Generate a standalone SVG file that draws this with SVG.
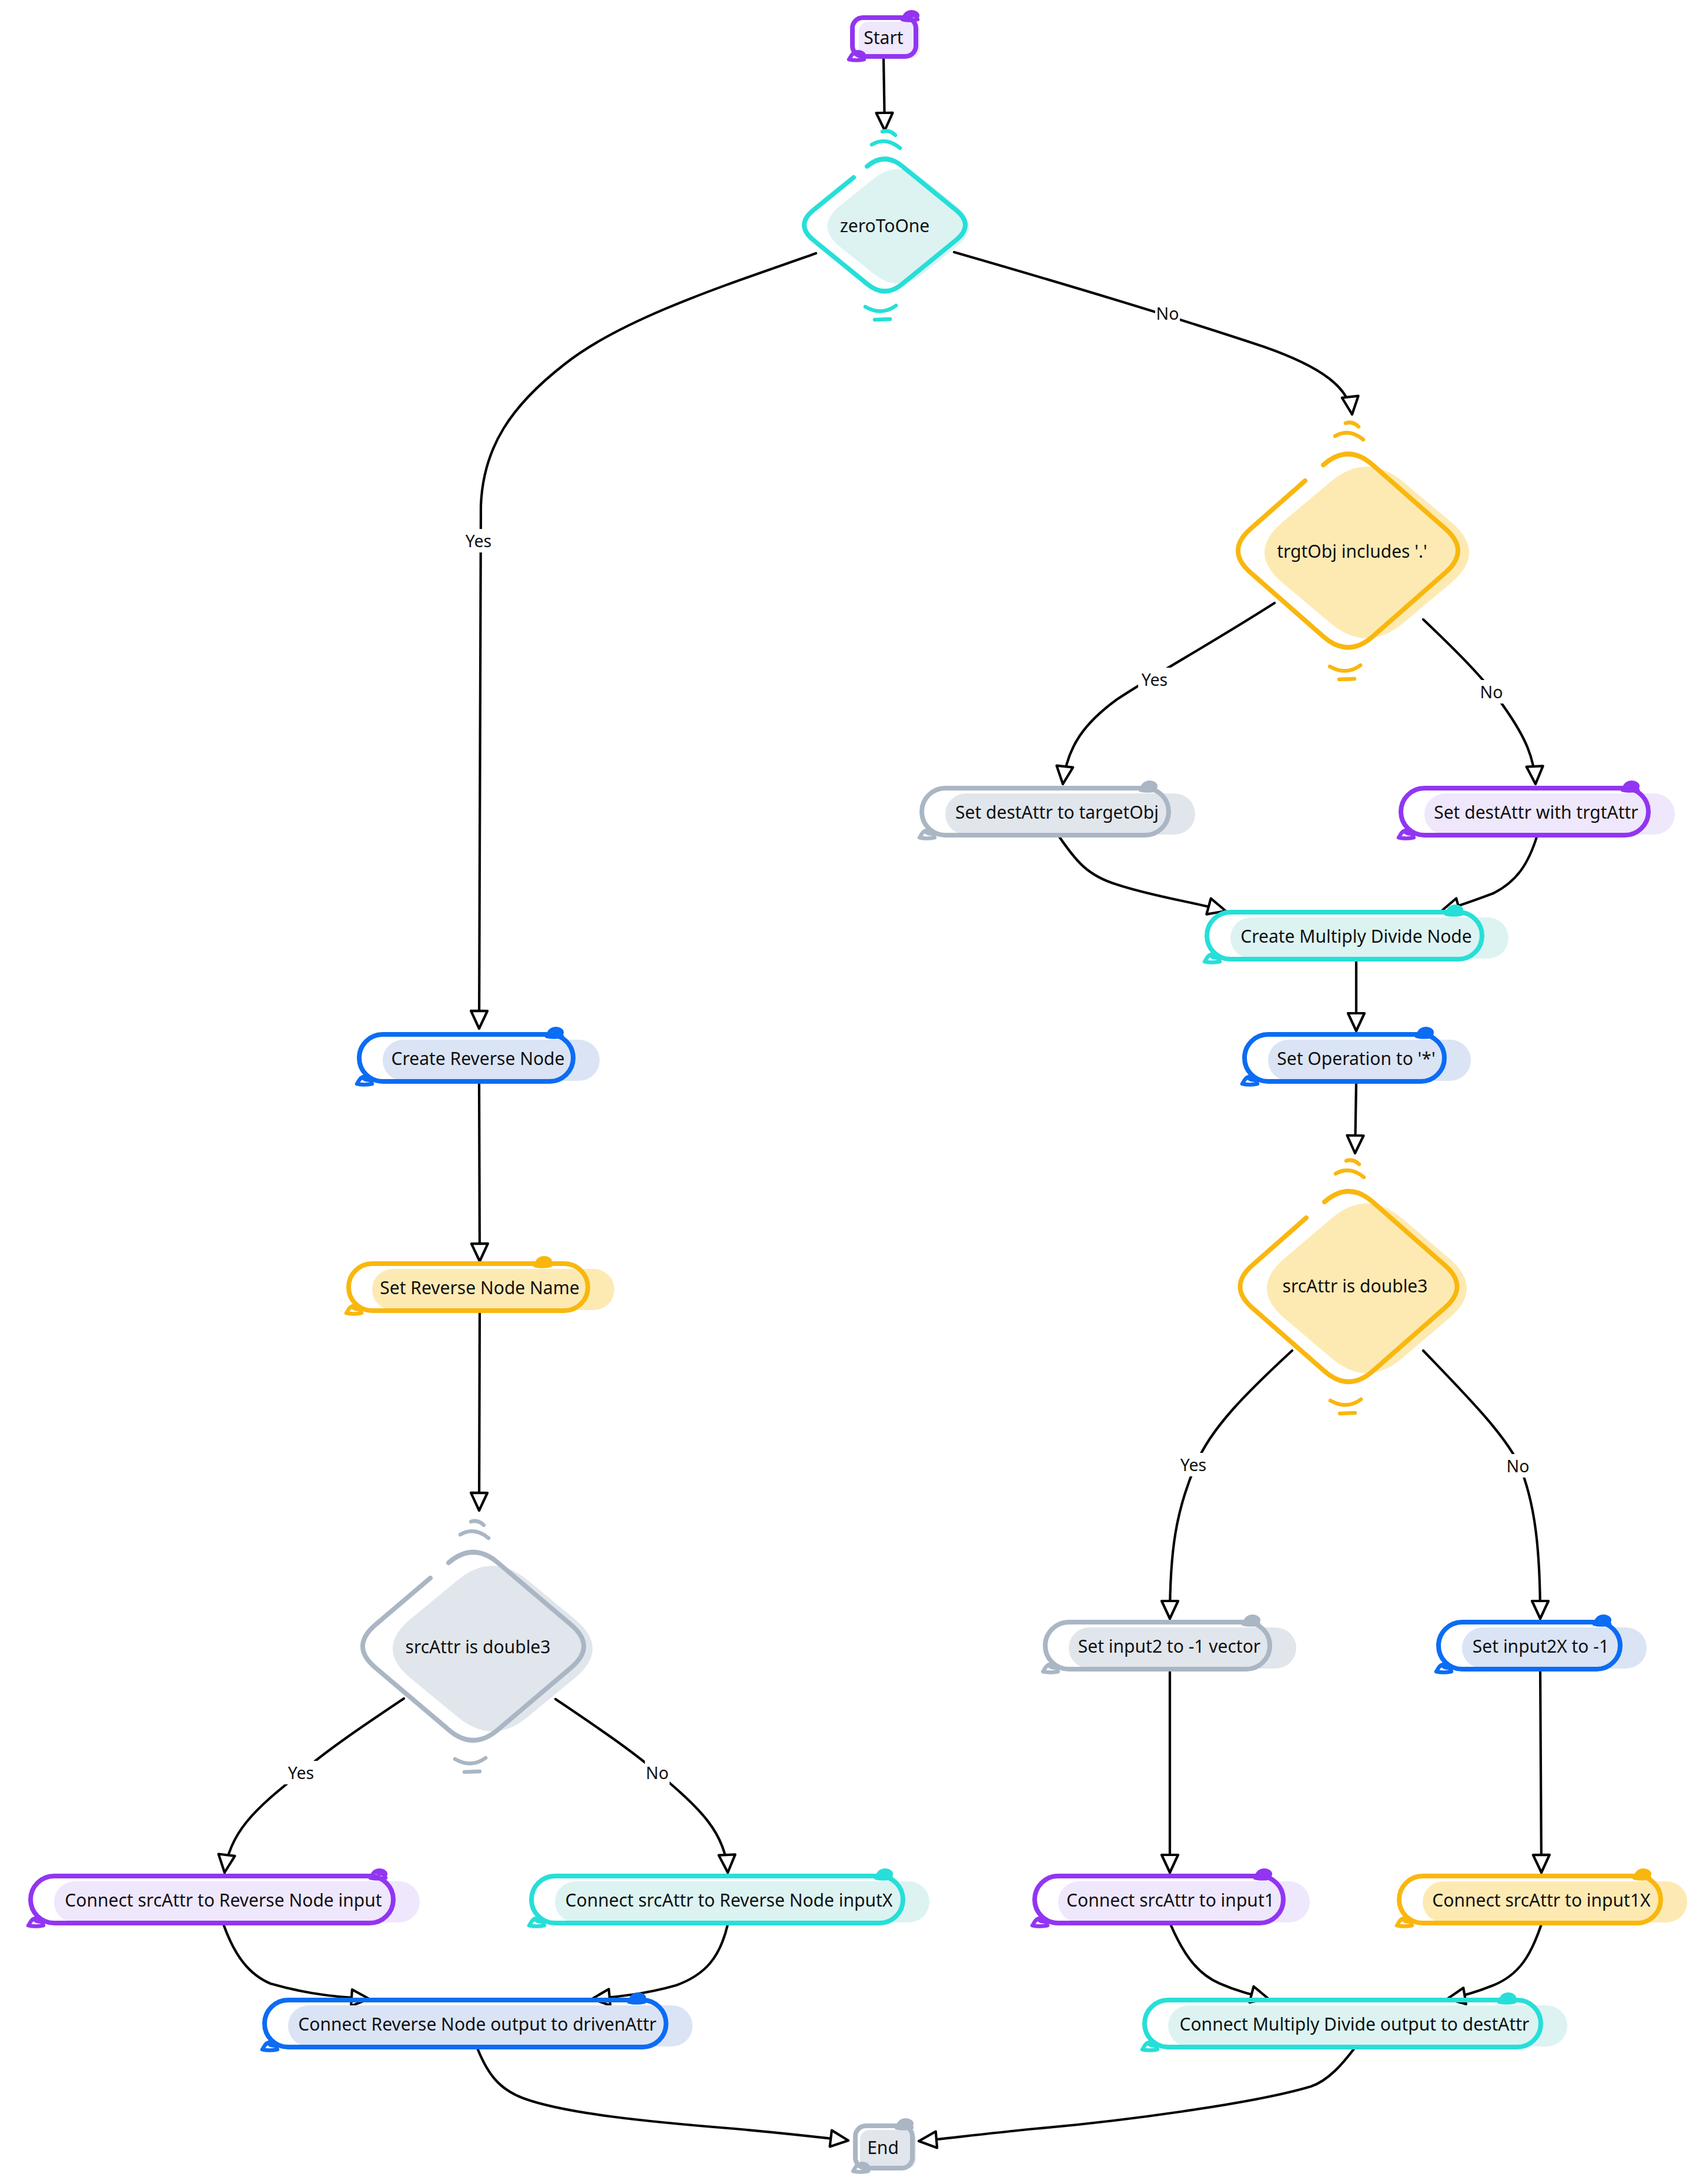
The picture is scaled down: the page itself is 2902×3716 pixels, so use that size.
<svg xmlns="http://www.w3.org/2000/svg" xmlns:xlink="http://www.w3.org/1999/xlink" width="2902" height="3716" viewBox="0 0 2902 3716">
<style>
.t{font-family:"Noto Sans","Open Sans","DejaVu Sans",sans-serif;font-size:30px;fill:#111111;text-anchor:middle;dominant-baseline:central}
.el{font-size:28.5px}
.lb{fill:#ffffff}
.e{fill:none;stroke:#000;stroke-width:4.2;stroke-linecap:round;stroke-linejoin:round}
.sk{fill:none;stroke-width:8;stroke-linecap:round;stroke-linejoin:round}
.kn{fill:none;stroke-width:6.5;stroke-linecap:round;stroke-linejoin:round}
.purple{stroke:#9235F2}.fpurple{fill:#EFE7FB}
.cyan{stroke:#26DFD8}.fcyan{fill:#DCF3F2}
.amber{stroke:#F9B70E}.famber{fill:#FDEAB3}
.blue{stroke:#0B6CF4}.fblue{fill:#DAE4F5}
.gray{stroke:#AAB6C4}.fgray{fill:#E1E6EC}
</style>
<defs>
<marker id="ah" viewBox="0 0 38 34" refX="34" refY="17" markerWidth="38" markerHeight="34" markerUnits="userSpaceOnUse" orient="auto">
<path d="M4,3 L34,17 L4,31 Z" fill="#fff" stroke="#000" stroke-width="4.2" stroke-linejoin="round"/>
</marker>
<path id="knot" d="M-8,2 q6,-12 18,-9 q9,3 4,10 M0,-6 q4,6 12,4 M-10,5 q12,3 26,0"/>
<path id="dtop" d="M-22,-12 Q2,-26 26,-6 M-4,-34 Q8,-38 18,-28"/>
<path id="dbot" d="M-28,14 Q0,30 24,12 M-12,36 L14,35"/>
</defs>

<g id="connectors">
<path class="e" marker-end="url(#ah)" d="M1503,100 L1505,222"/>
<path class="e" marker-end="url(#ah)" d="M1388,431 C1250,480 1060,540 960,620 C870,690 822,760 818,860 L815,1750"/>
<path class="e" marker-end="url(#ah)" d="M1623,429 C1800,480 2000,540 2150,590 C2250,625 2295,660 2300,705"/>
<path class="e" marker-end="url(#ah)" d="M2168,1026 C2060,1095 1960,1150 1900,1190 C1845,1230 1815,1270 1808,1334"/>
<path class="e" marker-end="url(#ah)" d="M2421,1054 C2480,1110 2530,1160 2560,1205 C2595,1255 2610,1290 2612,1334"/>
<path class="e" marker-end="url(#ah)" d="M1800,1421 C1830,1465 1850,1490 1900,1505 C1960,1525 2030,1535 2085,1550"/>
<path class="e" marker-end="url(#ah)" d="M2615,1421 C2600,1470 2580,1500 2540,1520 C2500,1535 2470,1545 2452,1550"/>
<path class="e" marker-end="url(#ah)" d="M2307,1632 L2307,1754"/>
<path class="e" marker-end="url(#ah)" d="M2307,1842 L2305,1962"/>
<path class="e" marker-end="url(#ah)" d="M2198,2298 C2120,2370 2060,2430 2035,2490 C2000,2570 1990,2640 1990,2754"/>
<path class="e" marker-end="url(#ah)" d="M2421,2298 C2490,2370 2560,2440 2585,2494 C2612,2560 2620,2640 2620,2754"/>
<path class="e" marker-end="url(#ah)" d="M1990,2842 L1990,3186"/>
<path class="e" marker-end="url(#ah)" d="M2620,2842 L2622,3186"/>
<path class="e" marker-end="url(#ah)" d="M1991,3274 C2015,3330 2040,3360 2075,3375 C2110,3390 2135,3395 2158,3401"/>
<path class="e" marker-end="url(#ah)" d="M2622,3274 C2605,3325 2585,3360 2540,3378 C2505,3392 2480,3398 2462,3401"/>
<path class="e" marker-end="url(#ah)" d="M2304,3485 C2285,3510 2260,3540 2230,3550 C2130,3580 1900,3610 1760,3622 C1660,3632 1600,3640 1563,3643"/>
<path class="e" marker-end="url(#ah)" d="M812,3485 C830,3530 850,3555 890,3570 C960,3596 1100,3610 1250,3622 C1340,3630 1400,3637 1443,3642"/>
<path class="e" marker-end="url(#ah)" d="M815,1842 L816,2146"/>
<path class="e" marker-end="url(#ah)" d="M816,2232 L815,2570"/>
<path class="e" marker-end="url(#ah)" d="M687,2890 C620,2935 560,2975 512,3016 C430,3080 390,3120 382,3186"/>
<path class="e" marker-end="url(#ah)" d="M945,2891 C1010,2935 1070,2975 1118,3016 C1190,3075 1235,3120 1238,3186"/>
<path class="e" marker-end="url(#ah)" d="M380,3274 C400,3330 425,3360 460,3375 C530,3395 580,3398 628,3401"/>
<path class="e" marker-end="url(#ah)" d="M1238,3274 C1225,3330 1200,3360 1150,3378 C1090,3395 1040,3398 1007,3401"/>

<rect class="lb" x="786" y="900" width="56" height="40"/><text class="t el" x="814" y="920">Yes</text>
<rect class="lb" x="1965" y="513" width="42" height="40"/><text class="t el" x="1986" y="533">No</text>
<rect class="lb" x="1936" y="1136" width="56" height="40"/><text class="t el" x="1964" y="1156">Yes</text>
<rect class="lb" x="2516" y="1157" width="42" height="40"/><text class="t el" x="2537" y="1177">No</text>
<rect class="lb" x="2002" y="2472" width="56" height="40"/><text class="t el" x="2030" y="2492">Yes</text>
<rect class="lb" x="2561" y="2474" width="42" height="40"/><text class="t el" x="2582" y="2494">No</text>
<rect class="lb" x="484" y="2996" width="56" height="40"/><text class="t el" x="512" y="3016">Yes</text>
<rect class="lb" x="1097" y="2996" width="42" height="40"/><text class="t el" x="1118" y="3016">No</text>
</g>

<g id="start">
<rect class="fpurple" x="1461" y="37" width="104" height="62" rx="16"/>
<rect class="sk purple" x="1450" y="30" width="108" height="66" rx="18"/>
<use href="#knot" class="kn purple" x="1545" y="28"/>
<use href="#knot" class="kn purple" x="1454" y="96"/>
<text class="t" x="1503" y="63">Start</text>
</g>

<g id="zeroToOne">
<path class="fcyan" d="M1571,305 L1627,350 Q1670,385 1627,420 L1571,465 Q1528,500 1485,465 L1429,420 Q1386,385 1429,350 L1485,305 Q1528,270 1571,305 Z"/>
<path class="sk cyan" d="M1535,283 L1627,358 Q1657,383 1627,408 L1535,483 Q1505,508 1475,483 L1383,408 Q1353,383 1383,358 L1452,302 M1475,283 Q1505,258 1535,283"/>
<use href="#dtop" class="kn cyan" x="1505" y="258"/>
<use href="#dbot" class="kn cyan" x="1500" y="508"/>
<text class="t" x="1505" y="383">zeroToOne</text>
</g>

<g id="trgtObj">
<path class="famber" d="M2387,820 L2468,888 Q2530,940 2468,992 L2387,1060 Q2325,1112 2263,1060 L2182,992 Q2120,940 2182,888 L2263,820 Q2325,768 2387,820 Z"/>
<path class="sk amber" d="M2335,791 L2459,900 Q2501,937 2459,974 L2335,1083 Q2293,1120 2251,1083 L2127,974 Q2085,937 2127,900 L2220,818 M2251,791 Q2293,754 2335,791"/>
<use href="#dtop" class="kn amber" x="2293" y="754"/>
<use href="#dbot" class="kn amber" x="2290" y="1120"/>
<text class="t" x="2300" y="937">trgtObj includes '.'</text>
</g>

<g id="setDestTarget">
<rect class="fgray" x="1608" y="1350" width="425" height="70" rx="35"/>
<rect class="sk gray" x="1568" y="1341" width="420" height="80" rx="40"/>
<use href="#knot" class="kn gray" x="1950" y="1339"/>
<use href="#knot" class="kn gray" x="1574" y="1420"/>
<text class="t" x="1798" y="1381">Set destAttr to targetObj</text>
</g>

<g id="setDestWith">
<rect class="fpurple" x="2423" y="1350" width="426" height="70" rx="35"/>
<rect class="sk purple" x="2383" y="1341" width="421" height="80" rx="40"/>
<use href="#knot" class="kn purple" x="2770" y="1339"/>
<use href="#knot" class="kn purple" x="2389" y="1420"/>
<text class="t" x="2613" y="1381">Set destAttr with trgtAttr</text>
</g>

<g id="createMD">
<rect class="fcyan" x="2093" y="1561" width="473" height="70" rx="35"/>
<rect class="sk cyan" x="2053" y="1552" width="468" height="80" rx="40"/>
<use href="#knot" class="kn cyan" x="2470" y="1550"/>
<use href="#knot" class="kn cyan" x="2059" y="1631"/>
<text class="t" x="2307" y="1592">Create Multiply Divide Node</text>
</g>

<g id="setOp">
<rect class="fblue" x="2157" y="1769" width="345" height="70" rx="35"/>
<rect class="sk blue" x="2117" y="1760" width="340" height="80" rx="40"/>
<use href="#knot" class="kn blue" x="2420" y="1758"/>
<use href="#knot" class="kn blue" x="2123" y="1839"/>
<text class="t" x="2307" y="1800">Set Operation to '*'</text>
</g>

<g id="srcAttrRight">
<path class="famber" d="M2385,2073 L2465,2141 Q2525,2192 2465,2243 L2385,2311 Q2325,2362 2265,2311 L2185,2243 Q2125,2192 2185,2141 L2265,2073 Q2325,2022 2385,2073 Z"/>
<path class="sk amber" d="M2335,2045 L2458,2153 Q2499,2189 2458,2225 L2335,2333 Q2294,2369 2253,2333 L2130,2225 Q2089,2189 2130,2153 L2222,2072 M2253,2045 Q2294,2009 2335,2045"/>
<use href="#dtop" class="kn amber" x="2294" y="2009"/>
<use href="#dbot" class="kn amber" x="2291" y="2369"/>
<text class="t" x="2305" y="2187">srcAttr is double3</text>
</g>

<g id="setInput2">
<rect class="fgray" x="1818" y="2769" width="387" height="70" rx="35"/>
<rect class="sk gray" x="1778" y="2760" width="382" height="80" rx="40"/>
<use href="#knot" class="kn gray" x="2125" y="2758"/>
<use href="#knot" class="kn gray" x="1784" y="2839"/>
<text class="t" x="1989" y="2800">Set input2 to -1 vector</text>
</g>

<g id="setInput2X">
<rect class="fblue" x="2487" y="2769" width="314" height="70" rx="35"/>
<rect class="sk blue" x="2447" y="2760" width="309" height="80" rx="40"/>
<use href="#knot" class="kn blue" x="2722" y="2758"/>
<use href="#knot" class="kn blue" x="2453" y="2839"/>
<text class="t" x="2621" y="2800">Set input2X to -1</text>
</g>

<g id="connectInput1">
<rect class="fpurple" x="1800" y="3201" width="428" height="70" rx="35"/>
<rect class="sk purple" x="1760" y="3192" width="423" height="80" rx="40"/>
<use href="#knot" class="kn purple" x="2145" y="3190"/>
<use href="#knot" class="kn purple" x="1766" y="3271"/>
<text class="t" x="1991" y="3232">Connect srcAttr to input1</text>
</g>

<g id="connectInput1X">
<rect class="famber" x="2420" y="3201" width="450" height="70" rx="35"/>
<rect class="sk amber" x="2380" y="3192" width="445" height="80" rx="40"/>
<use href="#knot" class="kn amber" x="2790" y="3190"/>
<use href="#knot" class="kn amber" x="2386" y="3271"/>
<text class="t" x="2622" y="3232">Connect srcAttr to input1X</text>
</g>

<g id="connectMDOut">
<rect class="fcyan" x="1987" y="3412" width="679" height="70" rx="35"/>
<rect class="sk cyan" x="1947" y="3403" width="674" height="80" rx="40"/>
<use href="#knot" class="kn cyan" x="2560" y="3401"/>
<use href="#knot" class="kn cyan" x="1953" y="3482"/>
<text class="t" x="2304" y="3443">Connect Multiply Divide output to destAttr</text>
</g>

<g id="createReverse">
<rect class="fblue" x="651" y="1769" width="369" height="70" rx="35"/>
<rect class="sk blue" x="611" y="1760" width="364" height="80" rx="40"/>
<use href="#knot" class="kn blue" x="940" y="1758"/>
<use href="#knot" class="kn blue" x="617" y="1839"/>
<text class="t" x="813" y="1800">Create Reverse Node</text>
</g>

<g id="setReverseName">
<rect class="famber" x="633" y="2159" width="412" height="70" rx="35"/>
<rect class="sk amber" x="593" y="2150" width="407" height="80" rx="40"/>
<use href="#knot" class="kn amber" x="920" y="2148"/>
<use href="#knot" class="kn amber" x="599" y="2229"/>
<text class="t" x="816" y="2190">Set Reverse Node Name</text>
</g>

<g id="srcAttrLeft">
<path class="fgray" d="M898,2689 L978,2755 Q1038,2805 978,2855 L898,2921 Q838,2971 778,2921 L698,2855 Q638,2805 698,2755 L778,2689 Q838,2639 898,2689 Z"/>
<path class="sk gray" d="M847,2659 L972,2765 Q1014,2801 972,2837 L847,2943 Q805,2979 763,2943 L638,2837 Q596,2801 638,2765 L732,2685 M763,2659 Q805,2623 847,2659"/>
<use href="#dtop" class="kn gray" x="805" y="2623"/>
<use href="#dbot" class="kn gray" x="802" y="2979"/>
<text class="t" x="813" y="2801">srcAttr is double3</text>
</g>

<g id="connectRevInput">
<rect class="fpurple" x="92" y="3201" width="622" height="70" rx="35"/>
<rect class="sk purple" x="52" y="3192" width="617" height="80" rx="40"/>
<use href="#knot" class="kn purple" x="640" y="3190"/>
<use href="#knot" class="kn purple" x="58" y="3271"/>
<text class="t" x="380" y="3232">Connect srcAttr to Reverse Node input</text>
</g>

<g id="connectRevInputX">
<rect class="fcyan" x="944" y="3201" width="637" height="70" rx="35"/>
<rect class="sk cyan" x="904" y="3192" width="632" height="80" rx="40"/>
<use href="#knot" class="kn cyan" x="1500" y="3190"/>
<use href="#knot" class="kn cyan" x="910" y="3271"/>
<text class="t" x="1240" y="3232">Connect srcAttr to Reverse Node inputX</text>
</g>

<g id="connectRevOut">
<rect class="fblue" x="490" y="3412" width="688" height="70" rx="35"/>
<rect class="sk blue" x="450" y="3403" width="683" height="80" rx="40"/>
<use href="#knot" class="kn blue" x="1080" y="3401"/>
<use href="#knot" class="kn blue" x="456" y="3482"/>
<text class="t" x="812" y="3443">Connect Reverse Node output to drivenAttr</text>
</g>

<g id="end">
<rect class="fgray" x="1463" y="3624" width="95" height="66" rx="16"/>
<rect class="sk gray" x="1455" y="3617" width="97" height="72" rx="18"/>
<use href="#knot" class="kn gray" x="1535" y="3615"/>
<use href="#knot" class="kn gray" x="1461" y="3689"/>
<text class="t" x="1502" y="3653">End</text>
</g>
</svg>
